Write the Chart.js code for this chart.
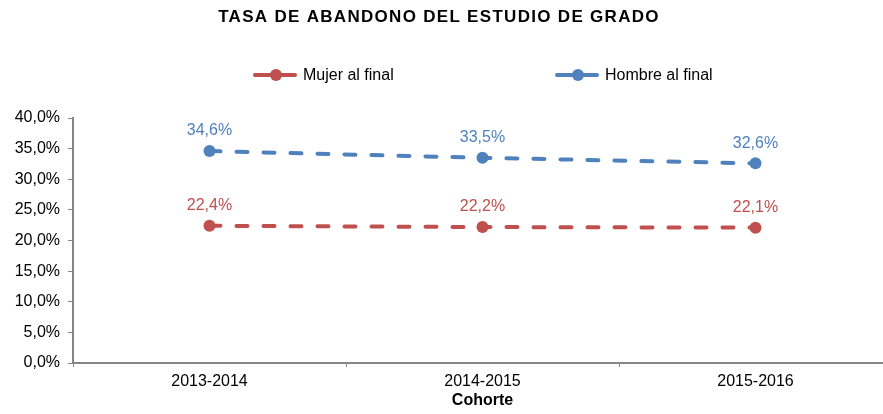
<!DOCTYPE html>
<html>
<head>
<meta charset="utf-8">
<script src="https://cdn.jsdelivr.net/npm/chart.js@4"></script>
<style>
  html, body { margin: 0; padding: 0; overflow: hidden; background: #fff; }
  #wrap { width: 898px; height: 414px; }
</style>
</head>
<body>
<div id="wrap"><canvas id="myChart"></canvas></div>
<script>
// datos
var cohortes = ['2013-2014', '2014-2015', '2015-2016'];
var mujerFinal = [22.4, 22.2, 22.1];
var hombreFinal = [34.6, 33.5, 32.6];
var yTicks = [0, 5, 10, 15, 20, 25, 30, 35, 40];

var FONT = '"Liberation Sans", Arial, sans-serif';
var ROJO = '#C0504D';
var AZUL = '#4F81BD';
var GRIS = '#868686';

function pct(v) {
  return v.toFixed(1).replace('.', ',') + '%';
}

// titulo, leyenda y etiquetas de datos
var extras = {
  id: 'extras',
  afterDatasetsDraw: function (chart) {
    var c = chart.ctx;
    c.save();
    // titulo
    c.fillStyle = '#000';
    c.font = 'bold 17px ' + FONT;
    c.letterSpacing = '1.3px';
    c.textAlign = 'center';
    c.textBaseline = 'middle';
    c.fillText('TASA DE ABANDONO DEL ESTUDIO DE GRADO', 439, 17);
    c.letterSpacing = '0px';

    // leyenda
    var legX = [253, 555];
    chart.data.datasets.forEach(function (ds, i) {
      var x = legX[i], y = 75;
      c.strokeStyle = ds.borderColor;
      c.lineWidth = 4;
      c.lineCap = 'round';
      c.beginPath();
      c.moveTo(x + 2, y);
      c.lineTo(x + 42, y);
      c.stroke();
      c.fillStyle = ds.borderColor;
      c.beginPath();
      c.arc(x + 23, y, 6, 0, Math.PI * 2);
      c.fill();
      c.fillStyle = '#000';
      c.font = '16px ' + FONT;
      c.textAlign = 'left';
      c.fillText(ds.label, x + 50, y + 1);
    });

    // etiquetas de datos
    c.font = '16px ' + FONT;
    c.textAlign = 'center';
    chart.data.datasets.forEach(function (ds, i) {
      var meta = chart.getDatasetMeta(i);
      c.fillStyle = ds.borderColor;
      meta.data.forEach(function (pt, j) {
        c.fillText(pct(ds.data[j]), pt.x, pt.y - 20);
      });
    });
    c.restore();
  }
};

var ctx = document.getElementById('myChart').getContext('2d');
var myChart = new Chart(ctx, {
  type: 'line',
  data: {
    labels: cohortes,
    datasets: [{
      label: 'Mujer al final',
      data: mujerFinal,
      borderColor: ROJO,
      backgroundColor: ROJO,
      borderWidth: 4,
      borderDash: [11, 16],
      borderCapStyle: 'round',
      pointRadius: 6,
      pointBorderWidth: 0,
      pointBackgroundColor: ROJO,
      fill: false
    }, {
      label: 'Hombre al final',
      data: hombreFinal,
      borderColor: AZUL,
      backgroundColor: AZUL,
      borderWidth: 4,
      borderDash: [11, 16],
      borderCapStyle: 'round',
      pointRadius: 6,
      pointBorderWidth: 0,
      pointBackgroundColor: AZUL,
      fill: false
    }]
  },
  options: {
    responsive: true,
    maintainAspectRatio: false,
    animation: false,
    layout: { padding: { top: 118, right: 0, bottom: 0, left: 0 } },
    plugins: {
      legend: { display: false },
      title: { display: false },
      tooltip: { enabled: false }
    },
    scales: {
      x: {
        offset: true,
        grid: {
          offset: true,
          drawOnChartArea: false,
          color: GRIS,
          tickLength: 4
        },
        border: { color: GRIS, width: 2 },
        ticks: {
          color: '#000',
          font: { family: FONT, size: 16 },
          padding: 5
        },
        title: {
          display: true,
          text: 'Cohorte',
          color: '#000',
          font: { family: FONT, size: 16, weight: 'bold' },
          padding: { top: 0, bottom: 4 }
        },
        afterFit: function (scale) { scale.height = 51; }
      },
      y: {
        min: 0,
        max: 40,
        afterBuildTicks: function (scale) {
          scale.ticks = yTicks.map(function (v) { return { value: v }; });
        },
        grid: {
          drawOnChartArea: false,
          color: GRIS,
          tickLength: 5
        },
        border: { color: GRIS, width: 2 },
        ticks: {
          color: '#000',
          font: { family: FONT, size: 16 },
          padding: 8,
          callback: function (v) { return pct(v); }
        },
        afterFit: function (scale) { scale.width = 73; }
      }
    }
  },
  plugins: [extras]
});
</script>
</body>
</html>
